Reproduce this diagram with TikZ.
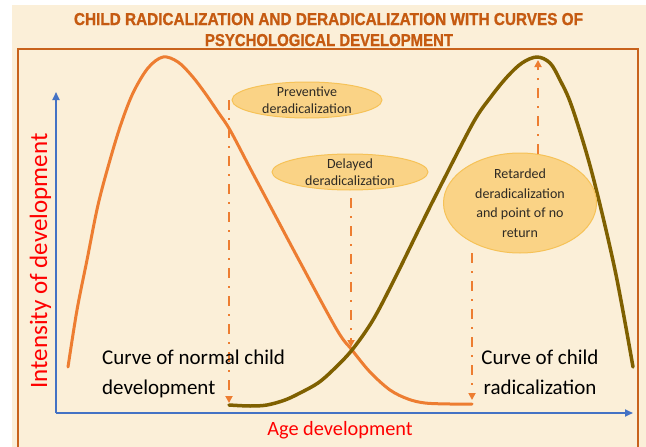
\documentclass[tikz,border=0pt]{standalone}
\usepackage{fontspec}
\setmainfont{Carlito}
\newfontfamily\titlefont[FakeBold=1.2]{Liberation Sans}
\usetikzlibrary{arrows.meta,shapes.geometric}
\definecolor{cream}{HTML}{FBEFD8}
\definecolor{titleorange}{HTML}{C55A11}
\definecolor{frameorange}{HTML}{C8621C}
\definecolor{curveorange}{HTML}{ED7D31}
\definecolor{curveolive}{HTML}{7F6000}
\definecolor{axisblue}{HTML}{4472C4}
\definecolor{bubblefill}{HTML}{FAD386}
\definecolor{bubbleedge}{HTML}{F6C257}
\definecolor{bubbleink}{HTML}{2E2A24}
\begin{document}
\begin{tikzpicture}[x=1pt,y=-1pt,
  titletext/.style={font=\titlefont\bfseries, text=titleorange, inner sep=0pt, anchor=base},
  frameline/.style={draw=frameorange, line width=1.8pt},
  axisline/.style={draw=axisblue, line width=1.8pt, -{Triangle[length=8pt,width=7pt]}},
  axislabel/.style={text=red, inner sep=0pt},
  bubble/.style={ellipse, fill=bubblefill, draw=bubbleedge, line width=1pt, inner sep=0pt},
  bubbletext/.style={font=\fontsize{14}{17.5}\selectfont, text=bubbleink, align=center, inner sep=0pt},
  dashconn/.style={draw=curveorange, line width=2pt, dash pattern=on 10pt off 8pt on 2pt off 8pt,
     -{Triangle[length=7pt,width=7pt]}},
  curvetext/.style={font=\fontsize{21}{29.5}\selectfont, text=black, inner sep=0pt},
  orangecurve/.style={draw=curveorange, line width=3pt, line cap=round, line join=round},
  olivecurve/.style={draw=curveolive, line width=3.5pt, line cap=round, line join=round}
]
\useasboundingbox (0,0) rectangle (646,447);
\clip (0,0) rectangle (646,447);
\fill[white] (0,0) rectangle (646,447);
\fill[cream] (12,5) rectangle (646,447);

% title
\node[titletext] (t1) at (328.5,25) {\resizebox{509pt}{12pt}{CHILD RADICALIZATION AND DERADICALIZATION WITH CURVES OF}};
\node[titletext] (t2) at (329,46) {\resizebox{248pt}{12pt}{PSYCHOLOGICAL DEVELOPMENT}};

% frame
\draw[frameline] (18,470) -- (18,49) -- (638,49) -- (638,470);

% axes
\coordinate (O) at (56,413);
\coordinate (xend) at (633,413);
\coordinate (yend) at (56,92);
\draw[axisline] (O) -- (xend);
\draw[axisline] (O) -- (yend);
\node[axislabel, font=\fontsize{20.3}{24}\selectfont, anchor=base] (xlab) at (340,435) {Age development};
\node[axislabel, font=\fontsize{25}{30}\selectfont, anchor=base, rotate=90] (ylab) at (47,261) {Intensity of development};

% curves
\draw[orangecurve] plot[smooth, tension=0.55] coordinates {
 (68,367) (77,310) (87,260) (98,205) (110,160) (121,124) (133,93) (148,68) (163,57)
 (178,62) (192,76) (205,93) (218,112) (230,130) (250,168) (267,200) (300,262)
 (337,330) (352,350) (370,372) (390,390) (408,399) (425,403) (450,404) (472,404)};
\draw[olivecurve] plot[smooth, tension=0.55] coordinates {
 (229,405) (250,406) (267,405) (285,400) (300,393) (318,383) (333,370) (352,350)
 (373,320) (395,278) (420,227) (440,187) (473,123) (490,98) (507,77) (522,63) (537,57)
 (550,63) (560,80) (572,107) (592,173) (615,270) (633,367)};

% bubbles
\node[bubble, minimum width=150pt, minimum height=36pt,
  label={[bubbletext]center:Preventive\\deradicalization}] (prev) at (307,100) {};
\node[bubble, minimum width=156pt, minimum height=36pt,
  label={[bubbletext]center:Delayed\\deradicalization}] (del) at (350,172) {};
\node[bubble, minimum width=153pt, minimum height=100pt,
  label={[bubbletext, font=\fontsize{14}{19.5}\selectfont]center:Retarded\\deradicalization\\and point of no\\return}] (ret) at (520,203) {};

% dashed connectors
\coordinate (d1s) at (229,100);
\coordinate (d1e) at (229,403);
\coordinate (d2s) at (351,198);
\coordinate (d2e) at (351,347);
\coordinate (d3s) at (472,253);
\coordinate (d3e) at (472,400);
\coordinate (d4s) at (538,154);
\coordinate (d4e) at (538,60);
\draw[dashconn] (d1s) -- (d1e);
\draw[dashconn] (d2s) -- (d2e);
\draw[dashconn] (d3s) -- (d3e);
\draw[dashconn] (d4s) -- (d4e);

% curve captions
\node[curvetext, align=left, anchor=base west] (c1) at (102,394) {Curve of normal child\\development};
\node[curvetext, align=center, anchor=base] (c2) at (540,394) {Curve of child\\radicalization};
\end{tikzpicture}
\end{document}
